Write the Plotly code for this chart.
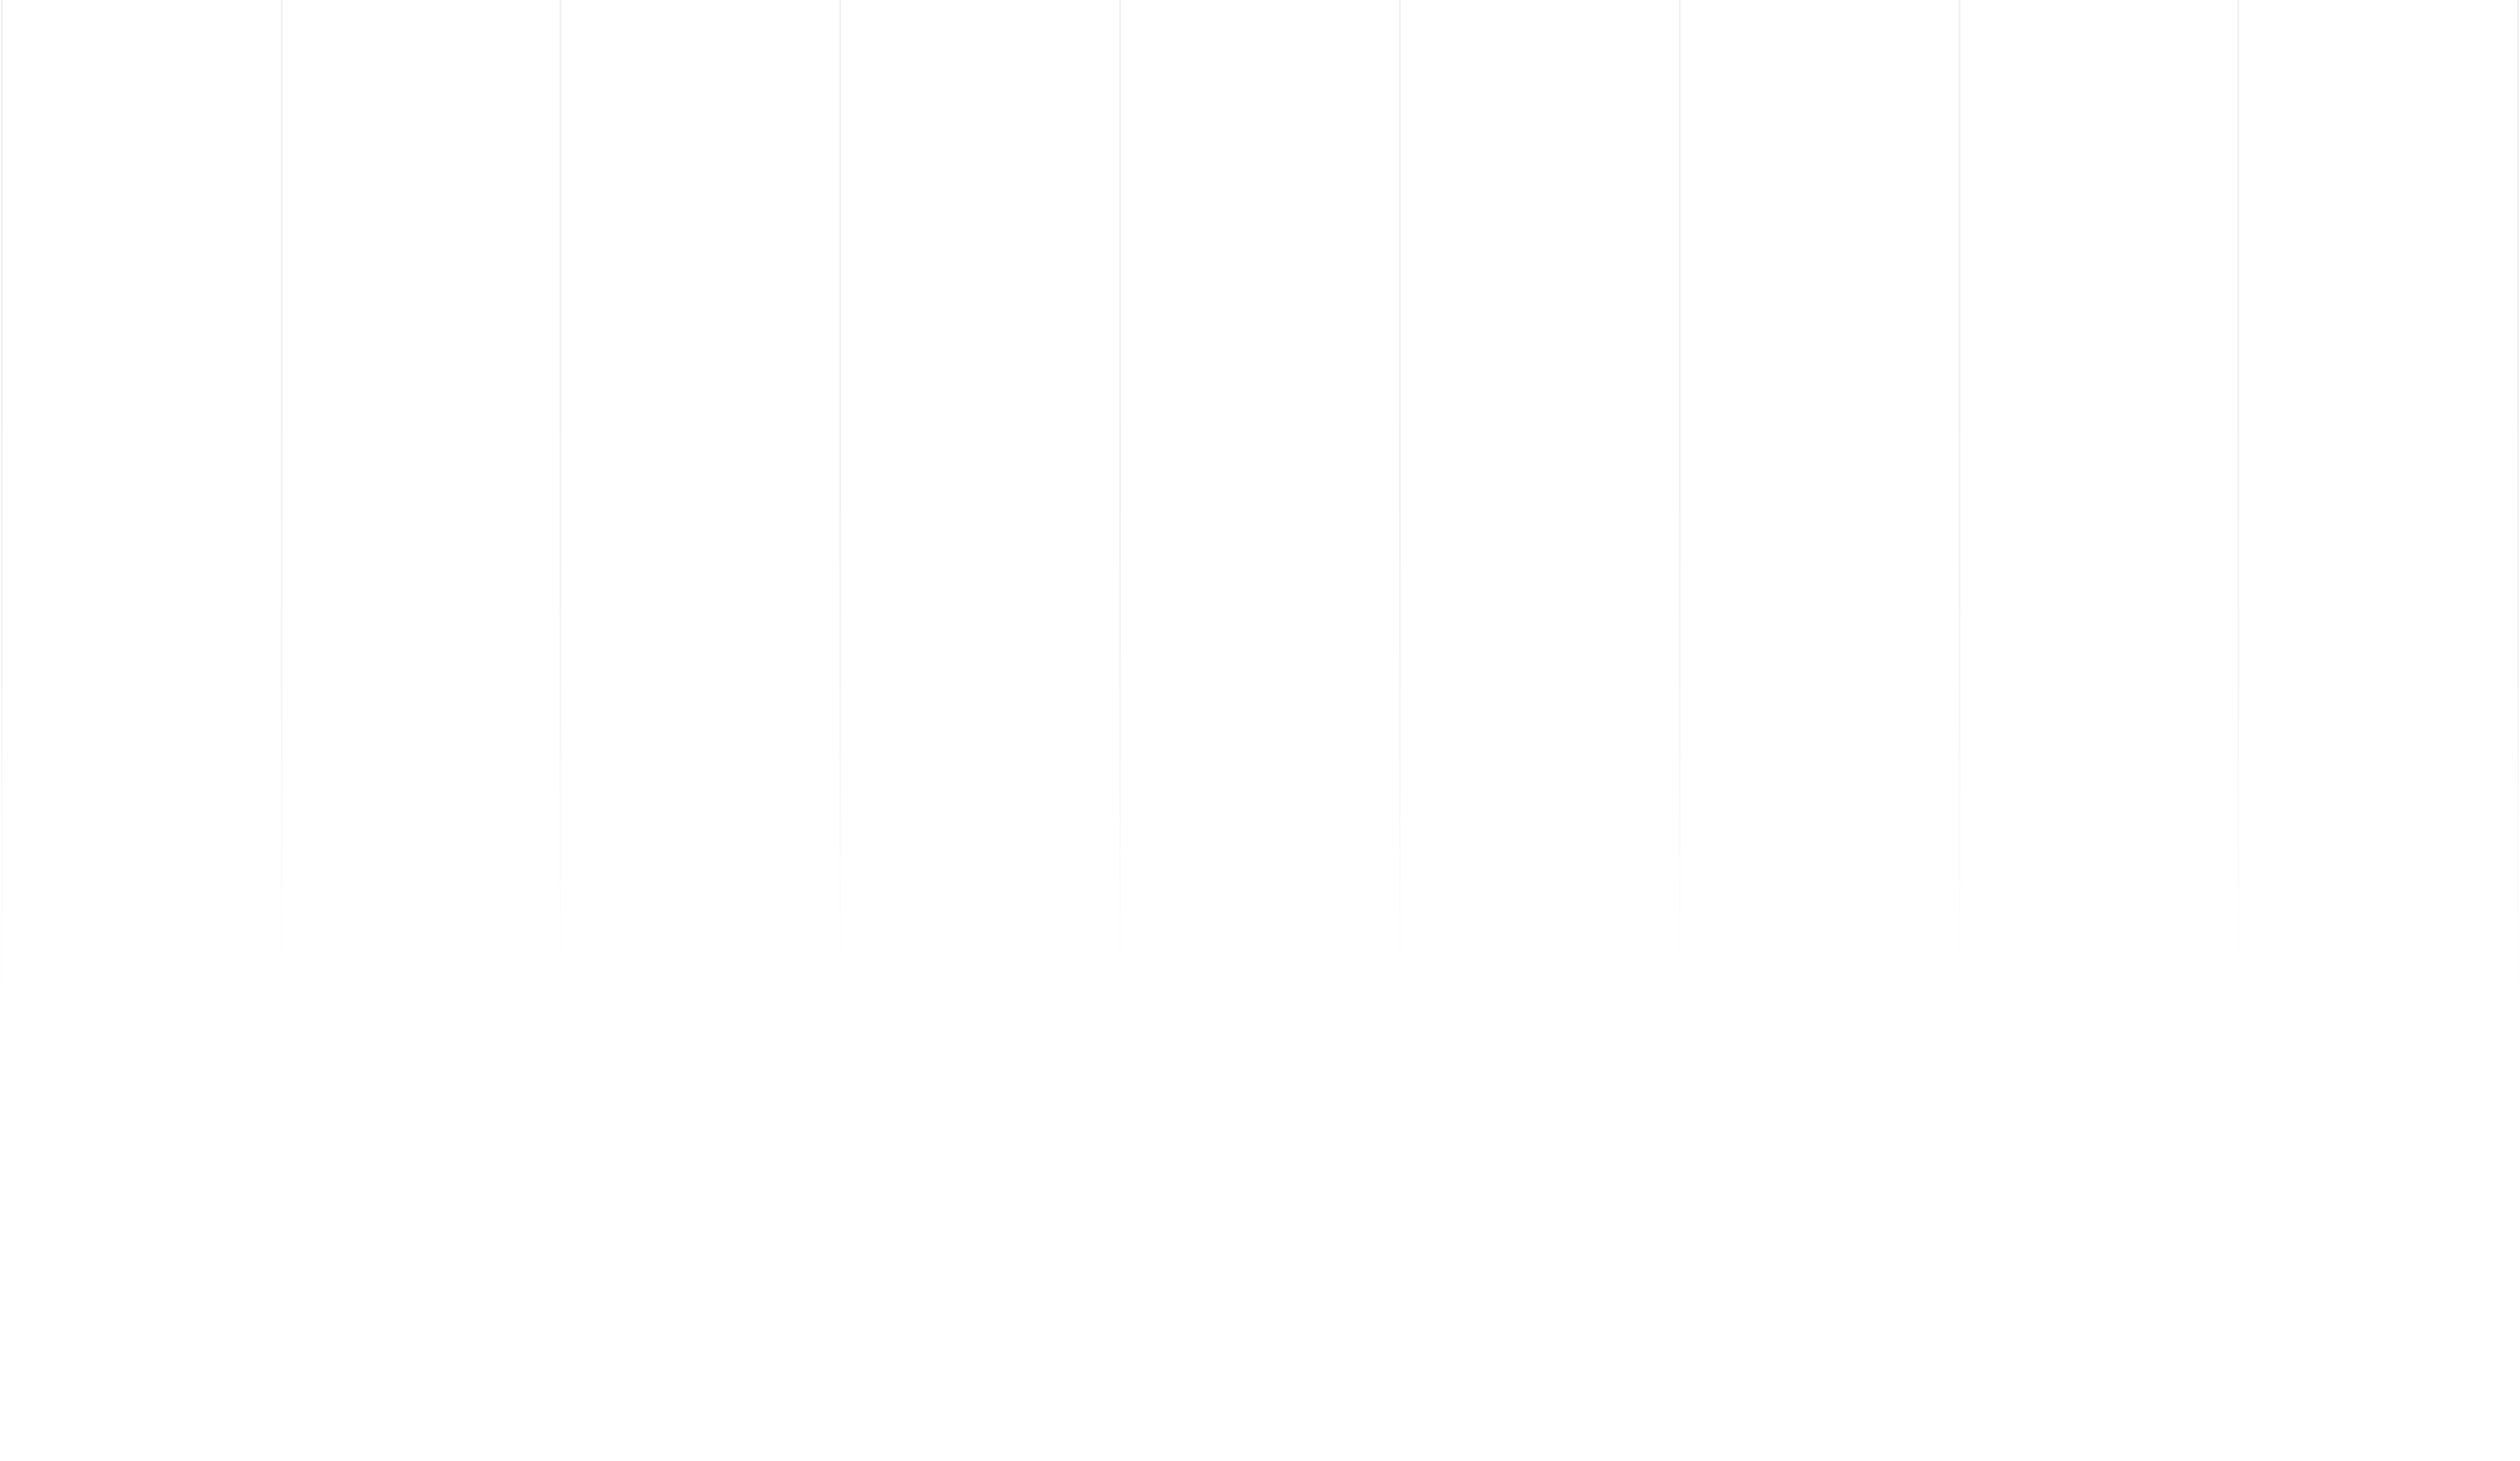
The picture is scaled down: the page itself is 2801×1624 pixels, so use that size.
import plotly.graph_objects as go

# Vertical grid positions (category boundaries)
grid_positions = [0, 1, 2, 3, 4, 5, 6, 7, 8, 9]

# Fade band: opacity of a white veil from top to bottom of the plot
fade_y = [1.0, 0.78, 0.66, 0.58, 0.50, 0.44, 0.38, 0.33, 0.29, 0.15, 0.0]
fade_levels = [0.0, 0.0, 0.1, 0.25, 0.45, 0.62, 0.8, 0.93, 1.0, 1.0, 1.0]

fig = go.Figure()
fig.add_trace(go.Heatmap(
    x=[grid_positions[0] - 0.1, grid_positions[-1] + 0.1],
    y=fade_y,
    z=[[v, v] for v in fade_levels],
    colorscale=[[0, "rgba(255,255,255,0)"], [1, "rgba(255,255,255,1)"]],
    zmin=0, zmax=1,
    showscale=False,
    zsmooth="best",
    hoverinfo="skip",
))

pad = 0.006
fig.update_layout(
    width=2801, height=1624,
    margin=dict(l=0, r=0, t=0, b=0),
    paper_bgcolor="white",
    plot_bgcolor="white",
    showlegend=False,
    xaxis=dict(
        range=[grid_positions[0] - pad, grid_positions[-1] + pad],
        tickvals=grid_positions,
        showticklabels=False,
        showgrid=True,
        gridcolor="#f0f0f0",
        gridwidth=2,
        zeroline=False,
        showline=False,
        ticks="",
    ),
    yaxis=dict(
        range=[0, 1],
        showticklabels=False,
        showgrid=False,
        zeroline=False,
        showline=False,
        ticks="",
    ),
)

fig.write_html(
    "out.html",
    config={"displayModeBar": False},
    post_script="document.body.style.margin='0';document.body.style.padding='0';",
)
